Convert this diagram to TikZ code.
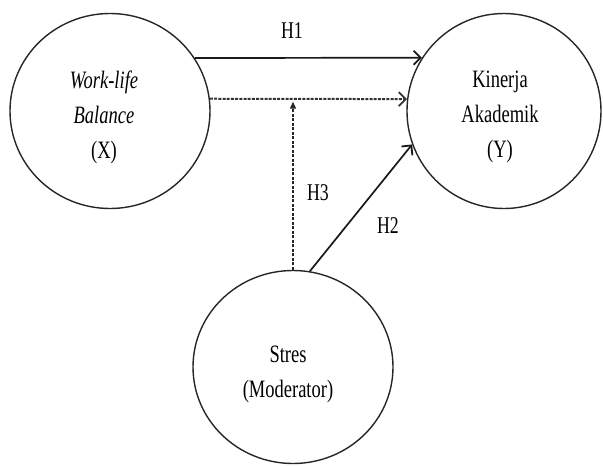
\documentclass[tikz,border=0pt]{standalone}
\usepackage{fontspec}
\setmainfont[FakeStretch=0.74]{Liberation Serif}
\usetikzlibrary{shapes.geometric,arrows.meta}
\begin{document}
\begin{tikzpicture}[x=1pt,y=-1pt,
  var/.style={draw=black!85,line width=1.4pt,ellipse,inner sep=0pt},
  txt/.style={align=center,font=\fontsize{25}{35}\selectfont,inner sep=0pt},
  lbl/.style={font=\fontsize{24}{26}\selectfont,inner sep=0pt},
  solidarrow/.style={line width=1.7pt,draw=black!90,-{Straight Barb[length=7pt,width=14pt,line width=1.8pt]}},
  dasharrow/.style={line width=2pt,draw=black!80,dash pattern=on 3pt off 1.2pt,-{Straight Barb[length=7pt,width=14pt,line width=1.8pt]}},
  dashup/.style={line width=1.3pt,draw=black!85,dash pattern=on 3pt off 1.5pt,-{Triangle[length=7pt,width=6pt]}}]
\useasboundingbox (0,0) rectangle (603,466);
% variables
\node[var,minimum width=200pt,minimum height=195pt] (X) at (110,111) {};
\node[var,minimum width=194pt,minimum height=195pt] (Y) at (504,111) {};
\node[var,minimum width=200pt,minimum height=193pt] (M) at (293,367) {};
% texts
\node[txt] (Xt) at (104,117) {\textit{Work-life}\\\textit{Balance}\\(X)};
\node[txt] (Yt) at (500,117) {Kinerja\\Akademik\\(Y)};
\node[txt] (Mt) at (288,374) {Stres\\(Moderator)};
% connectors
\draw[solidarrow] (X.32) -- (Y.147);
\draw[dasharrow] (X.7) -- (Y.173);
\draw[dashup,shorten >=3pt] (M.north) -- (M.north |- X.7);
\draw[solidarrow] (M.80) -- (Y.200);
% labels
\node[lbl] (h1) at (292,31) {H1};
\node[lbl] (h3) at (318,193) {H3};
\node[lbl] (h2) at (388,226) {H2};
\end{tikzpicture}
\end{document}
